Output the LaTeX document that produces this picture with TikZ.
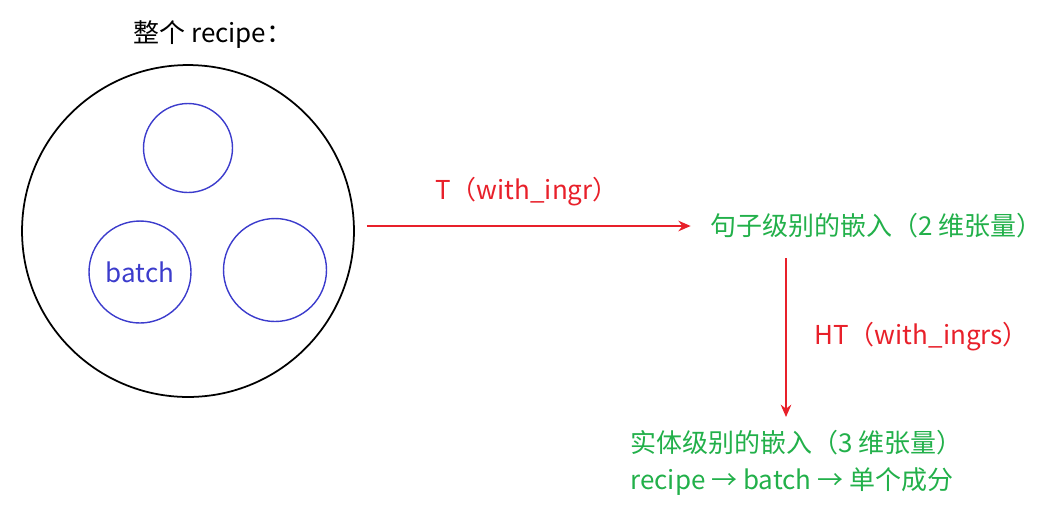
\documentclass[tikz,border=0pt]{standalone}
\usepackage{fontspec}
\setmainfont{Noto Sans CJK SC}
\usetikzlibrary{arrows.meta}
\definecolor{myred}{HTML}{E8202A}
\definecolor{mygreen}{HTML}{22B04A}
\definecolor{myblue}{HTML}{3C3CCC}
\tikzset{
  batchcirc/.style={draw=myblue, line width=0.8pt, circle, inner sep=0pt},
  redarrow/.style={myred, line width=1.1pt, -{Stealth[length=7pt,width=6pt]}},
  txt/.style={anchor=west, inner sep=0pt, font=\fontsize{14.8}{21}\selectfont},
}
\begin{document}
\begin{tikzpicture}[x=0.02cm, y=-0.02cm]
\useasboundingbox (0,0) rectangle (1050,522);
\node [txt] (title) at (133,35){整个 recipe：};
%
\node [draw, circle, line width=1pt, minimum size=6.64cm] (recipe) at (188,231){};
\node [batchcirc, minimum size=1.78cm] (top) at (188,148){};
\node [batchcirc, minimum size=2.04cm, text=myblue, font=\fontsize{14.8}{19}\selectfont] (batch) at (140,272){batch};
\node [batchcirc, minimum size=2.06cm] (right) at (275,270){};
%
\node [txt, mygreen] (sent) at (710,226){句子级别的嵌入（2 维张量）};
\node [txt, mygreen, align=left, anchor=north west] (ent) at (630,430){实体级别的嵌入（3 维张量）\\recipe → batch → 单个成分};
%
\draw[redarrow, shorten <=6.8pt, shorten >=11pt] (recipe.east |- sent.west) -- (sent.west);
\node [txt, myred, anchor=center] (tlab) at (527,192){T（with\_ingr）};
%
\coordinate (vx) at (786,0);
\draw[redarrow, shorten <=11pt, shorten >=7.4pt] (sent.south -| vx) -- (ent.north -| vx);
\node [txt, myred] (htlab) at (814,337){HT（with\_ingrs）};
\end{tikzpicture}
\end{document}
